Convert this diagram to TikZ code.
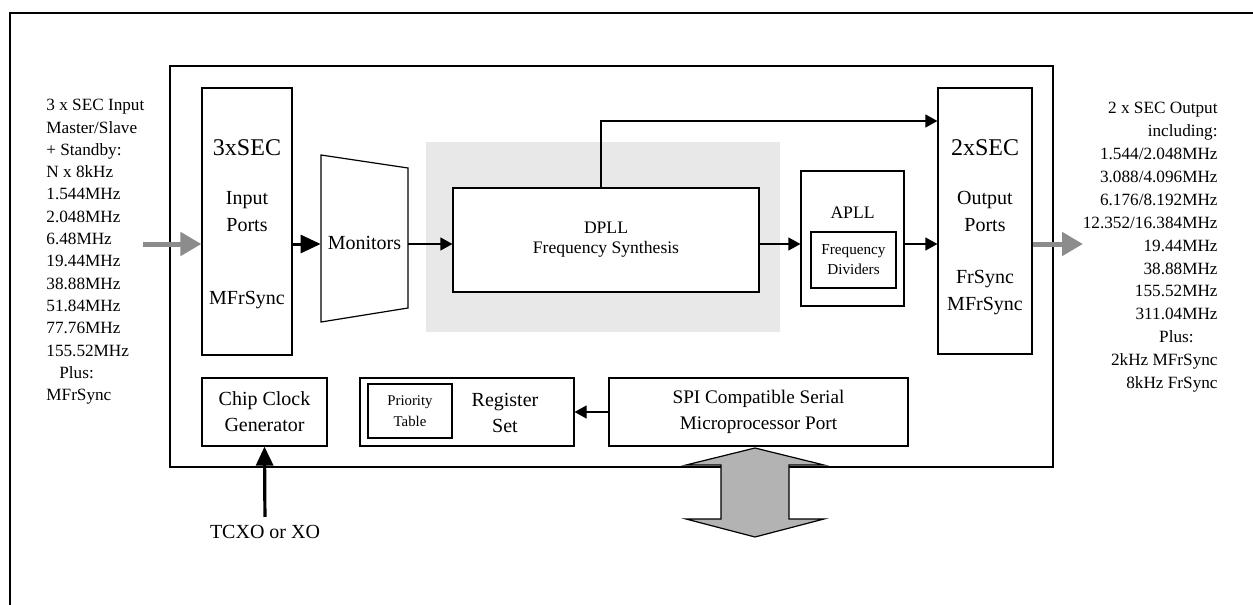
\documentclass[tikz,border=0pt]{standalone}
\usepackage{fontspec}
\setmainfont{Liberation Serif}
\usetikzlibrary{arrows.meta}
\definecolor{panelgray}{HTML}{E8E8E8}
\definecolor{arrowgray}{HTML}{8C8C8C}
\definecolor{busgray}{HTML}{B3B3B3}

\begin{document}
\begin{tikzpicture}[x=0.5pt,y=-0.5pt]
	\tikzstyle{blk} = [draw, line width=0.6pt, inner sep=0pt, align=center]
	\tikzstyle{txt} = [inner sep=0pt, align=center]
	\tikzstyle{flow} = [-{Triangle[length=6pt,width=6.5pt]}, line width=0.6pt]
	\tikzstyle{bus} = [-{Triangle[length=10pt,width=9pt]}, line width=1.5pt]
	\tikzstyle{grayarr} = [-{Triangle[length=10.5pt,width=11.5pt]}, line width=2.5pt, draw=arrowgray]
	\useasboundingbox (0,0) rectangle (1253,605);
	
	% frame and chip outline
	\draw [line width=1.3pt] (10,610) -- (10,13) -- (1260,13);
	\node [blk, line width=0.7pt, minimum width=441.5pt, minimum height=200.5pt] (chip) at (611.5,266.5) {};
	\fill [panelgray] (426,142) rectangle (780,332);
	
	\coordinate (lvl) at (143,244);
	\coordinate (fb) at (0,121);
	\coordinate (outr) at (1083,244);
	
	\node [blk, minimum width=45pt, minimum height=133.5pt, font=\fontsize{10}{13.5}\selectfont] (inp) at (247,221.5)
		{{\fontsize{12}{14}\selectfont\rule{0pt}{10.5pt}3xSEC}\\[11.25pt] Input\\Ports\\[23pt] MFrSync};
	\draw [line width=0.6pt] (321,155) -- (408,168) -- (408,308) -- (321,322) -- cycle;
	\node [txt, minimum width=43.5pt, font=\fontsize{10}{12}\selectfont] (mon) at (364.5,243) {Monitors};
	\node [blk, fill=white, minimum width=153pt, minimum height=52pt, font=\fontsize{8.8}{10}\selectfont] (dpll) at (606,240) {DPLL\\Frequency Synthesis};
	\node [blk, minimum width=51.5pt, minimum height=67.5pt] (apll) at (852.5,238.5) {};
	\node [txt, font=\fontsize{8.8}{12}\selectfont] (aplltxt) at (852.5,213) {APLL};
	\node [blk, minimum width=42.5pt, minimum height=28pt, font=\fontsize{7.6}{10}\selectfont] (fdiv) at (853.5,260) {Frequency\\Dividers};
	\node [blk, minimum width=47pt, minimum height=133pt, font=\fontsize{10}{13.5}\selectfont] (outp) at (985,221)
		{{\fontsize{12}{14}\selectfont\rule{0pt}{14pt}2xSEC}\\[11.25pt] Output\\Ports\\[12.5pt] FrSync\\MFrSync};
	
	\node [blk, minimum width=62.5pt, minimum height=34pt, font=\fontsize{10}{13}\selectfont] (clk) at (264.5,412) {Chip Clock\\Generator};
	\node [blk, minimum width=107pt, minimum height=34pt] (regs) at (467,412) {};
	\node [blk, minimum width=42pt, minimum height=27pt, font=\fontsize{7.4}{10.5}\selectfont] (prio) at (410,411) {Priority\\Table};
	\node [txt, font=\fontsize{10}{13}\selectfont] (regtxt) at (505,413) {Register\\Set};
	\node [blk, minimum width=149.5pt, minimum height=34pt, font=\fontsize{9.6}{13}\selectfont] (spi) at (758.5,412) {SPI Compatible Serial\\Microprocessor Port};
	\node [txt, font=\fontsize{10}{12}\selectfont] (xo) at (265,532) {TCXO or XO};
	
	\node [txt, align=left, anchor=north west, font=\fontsize{8.6}{11.15}\selectfont] (intxt) at (46,99)
		{3 x SEC Input\\Master/Slave\\+ Standby:\\N x 8kHz\\1.544MHz\\2.048MHz\\6.48MHz\\19.44MHz\\38.88MHz\\51.84MHz\\77.76MHz\\155.52MHz\\\hspace*{6.5pt}Plus:\\MFrSync};
	\node [txt, align=right, anchor=north east, font=\fontsize{8.6}{11.45}\selectfont] (outtxt) at (1218,102)
		{2 x SEC Output\\including:\\1.544/2.048MHz\\3.088/4.096MHz\\6.176/8.192MHz\\12.352/16.384MHz\\19.44MHz\\38.88MHz\\155.52MHz\\311.04MHz\\Plus:\rule{12pt}{0pt}\\2kHz MFrSync\\8kHz FrSync};
	
	\draw [grayarr] (lvl) -- (inp.west |- lvl);
	\draw [bus] (inp.east |- lvl) -- (mon.west |- lvl);
	\draw [flow] (mon.east |- lvl) -- (dpll.west |- lvl);
	\draw [flow] (dpll.east |- lvl) -- (apll.west |- lvl);
	\draw [flow] (apll.east |- lvl) -- (outp.west |- lvl);
	\draw [flow] ([xshift=-2.5pt]dpll.north) |- (outp.west |- fb);
	\draw [grayarr] (outp.east |- outr) -- (outr);
	
	\draw [flow] (spi.west) -- (regs.east);
	\draw [-{Triangle[length=9.5pt,width=8.5pt]}, line width=1.6pt, shorten <=4pt] (xo.north) -- (clk.south);
	
	\filldraw [fill=busgray, line width=0.6pt] (755,448) -- (824,465) -- (789,465) -- (789,519) -- (824,519) -- (755,537)
		-- (686,519) -- (721,519) -- (721,465) -- (686,465) -- cycle;
\end{tikzpicture}
\end{document}
